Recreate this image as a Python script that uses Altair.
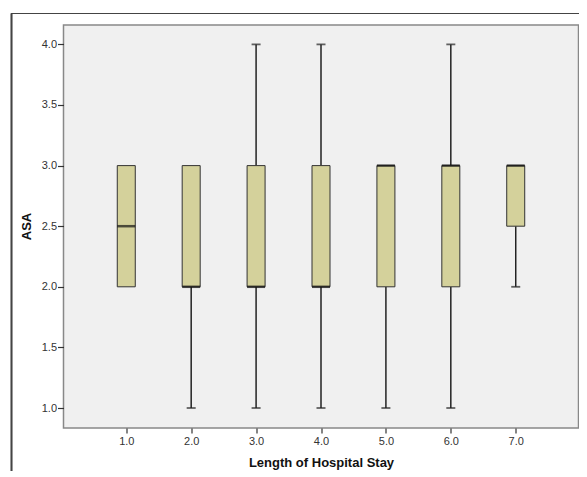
import altair as alt
import pandas as pd

stay = [1.0, 2.0, 3.0, 4.0, 5.0, 6.0, 7.0]
q1 = [2.0, 2.0, 2.0, 2.0, 2.0, 2.0, 2.5]
median = [2.5, 2.0, 2.0, 2.0, 3.0, 3.0, 3.0]
q3 = [3.0, 3.0, 3.0, 3.0, 3.0, 3.0, 3.0]
low = [2.0, 1.0, 1.0, 1.0, 1.0, 1.0, 2.0]
high = [3.0, 3.0, 4.0, 4.0, 3.0, 4.0, 3.0]
xticks = [1.0, 2.0, 3.0, 4.0, 5.0, 6.0, 7.0]
yticks = [1.0, 1.5, 2.0, 2.5, 3.0, 3.5, 4.0]

df = pd.DataFrame({"stay": stay, "q1": q1, "median": median, "q3": q3,
                   "low": low, "high": high})
lower = df[df["low"] < df["q1"]]
upper = df[df["high"] > df["q3"]]

FONT = "Liberation Sans"
xs = alt.Scale(domain=[0.11, 7.89], nice=False, zero=False)
ys = alt.Scale(domain=[0.835, 4.16], nice=False, zero=False)

X = alt.X("stay:Q", scale=xs, title="Length of Hospital Stay",
          axis=alt.Axis(values=xticks, format=".1f", grid=False, domain=False,
                        tickSize=5, tickColor="#333", tickWidth=1.2,
                        labelPadding=2, labelFontSize=11, labelColor="#333",
                        labelFont=FONT, titleFont=FONT, titleFontSize=13,
                        titleFontWeight="bold", titleColor="#111",
                        titleY=34, titleBaseline="middle"))
Xn = alt.X("stay:Q", scale=xs)

Y_axis = alt.Axis(values=yticks, format=".1f", grid=False, domain=False,
                  tickSize=6, tickColor="#333", tickWidth=1.2,
                  labelPadding=1, labelFontSize=11, labelColor="#333",
                  labelFont=FONT, titleFont=FONT, titleFontSize=13,
                  titleFontWeight="bold", titleColor="#111",
                  titleAngle=270, titleX=-37, titleY=201,
                  titleBaseline="middle", titleAlign="center")

whisk_lo = alt.Chart(lower).mark_rule(color="#222", strokeWidth=1.5).encode(
    x=X, y=alt.Y("low:Q", scale=ys, title="ASA", axis=Y_axis), y2="q1:Q")
whisk_hi = alt.Chart(upper).mark_rule(color="#222", strokeWidth=1.5).encode(
    x=Xn, y=alt.Y("q3:Q", scale=ys), y2="high:Q")
cap_lo = alt.Chart(lower).mark_tick(color="#222", thickness=1.8, size=9,
                                    orient="horizontal").encode(
    x=Xn, y=alt.Y("low:Q", scale=ys))
cap_hi = alt.Chart(upper).mark_tick(color="#222", thickness=1.8, size=9,
                                    orient="horizontal").encode(
    x=Xn, y=alt.Y("high:Q", scale=ys))
box = alt.Chart(df).mark_bar(size=18, color="#D4D19B", stroke="#333",
                             strokeWidth=1).encode(
    x=Xn, y=alt.Y("q1:Q", scale=ys), y2="q3:Q")
med = alt.Chart(df).mark_tick(color="#111", thickness=2.5, size=18,
                              orient="horizontal").encode(
    x=Xn, y=alt.Y("median:Q", scale=ys))

frame_top = alt.Chart(df).mark_rule(color="#444", strokeWidth=1.2, clip=False).encode(
    x=alt.value(-52), x2=alt.value(520), y=alt.value(-11.5))
frame_left = alt.Chart(df).mark_rule(color="#444", strokeWidth=1.2, clip=False).encode(
    x=alt.value(-52), y=alt.value(-11.5), y2=alt.value(470))

chart = alt.layer(whisk_lo, whisk_hi, cap_lo, cap_hi, box, med,
                  frame_top, frame_left).properties(
    width=515, height=403,
    autosize=alt.AutoSizeParams(type="none"),
    padding={"left": 55.5, "top": 17, "right": 0, "bottom": 43},
    background="white",
).configure_view(fill="#F0F0F0", stroke="#888", strokeWidth=1.5)

chart.save("out.html", embed_options={"renderer": "svg", "actions": False})
